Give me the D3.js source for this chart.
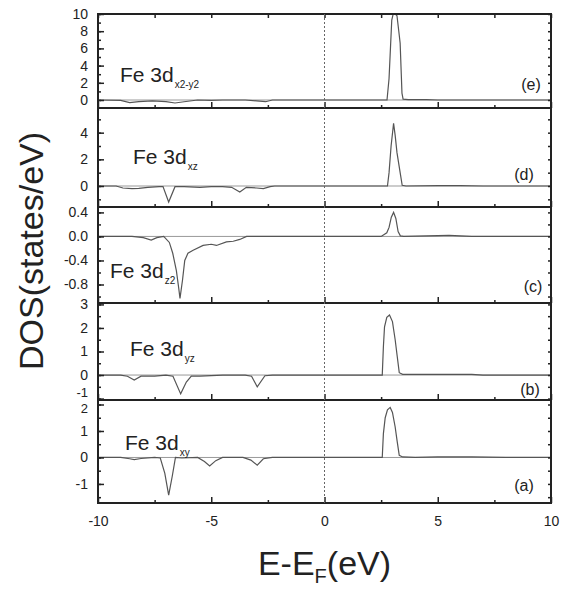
<!DOCTYPE html>
<html>
<head>
<meta charset="utf-8">
<script src="https://cdn.jsdelivr.net/npm/d3@7"></script>
<style>
  body { margin: 0; background: #fff; }
  text { font-family: "Liberation Sans", Arial, sans-serif; fill: #222; }
</style>
</head>
<body>
<div id="chart"></div>
<script>
// data: energy (eV) and DOS (states/eV) for each orbital

var energyX2Y2 = [-10, -9, -8.6, -8.2, -7.6, -7, -6.6, -6.2, -5.6, -5, -4.5, -3.5, -3, -2.6, -2.3, 2.7, 2.76, 2.85, 2.92, 2.97, 3.05, 3.2, 3.28, 3.34, 3.39, 3.42, 3.47, 3.7, 4.5, 5, 10];
var dosX2Y2 = [0, -0.05, -0.3, -0.2, -0.1, -0.2, -0.35, -0.2, 0, -0.05, 0, 0, -0.1, -0.2, 0, 0, 0, 2.5, 6.5, 9.3, 10.2, 9.8, 8, 6.6, 3, 0.8, 0.1, 0.05, 0.05, 0, 0];

var energyXZ = [-10, -9.2, -8.9, -8.5, -8.2, -7.8, -7.3, -7.13, -6.88, -6.6, -6.2, -5.5, -5, -4.5, -4.1, -3.74, -3.45, -3, -2.7, -2.4, -2.2, 2.7, 2.78, 2.85, 2.94, 3.05, 3.12, 3.2, 3.34, 3.43, 3.6, 5, 6, 7, 10];
var dosXZ = [0, 0, -0.15, -0.2, -0.18, -0.1, -0.05, -0.05, -1.2, -0.05, -0.05, -0.1, -0.05, -0.05, -0.1, -0.45, -0.1, -0.15, -0.2, -0.05, 0, 0, 0, 1, 3, 4.7, 3.8, 2.5, 1, 0.05, 0, 0.03, 0.03, 0, 0];

var energyZ2 = [-10, -8.5, -8, -7.65, -7.4, -7.1, -6.85, -6.7, -6.54, -6.44, -6.38, -6.27, -6.17, -6.03, -5.8, -5.36, -5, -4.77, -4.33, -4.03, -3.74, -3.44, 2.5, 2.75, 2.85, 2.95, 3.05, 3.15, 3.25, 3.35, 3.5, 4.5, 5, 5.5, 6, 6.5, 10];
var dosZ2 = [0, 0, -0.02, -0.06, -0.02, 0, -0.1, -0.28, -0.57, -0.85, -1.03, -0.73, -0.4, -0.28, -0.23, -0.15, -0.13, -0.15, -0.09, -0.08, -0.05, 0, 0, 0.06, 0.15, 0.32, 0.4, 0.3, 0.08, 0.01, 0, 0.01, 0.015, 0.02, 0.01, 0, 0];

var energyYZ = [-10, -9, -8.7, -8.4, -8.1, -7.5, -7, -6.69, -6.35, -6.1, -5.88, -5.5, -4.5, -3.5, -3.22, -2.97, -2.63, -2.3, 2.55, 2.6, 2.65, 2.75, 2.87, 3, 3.12, 3.21, 3.3, 3.45, 5.5, 6.5, 7, 10];
var dosYZ = [0, 0, -0.05, -0.21, -0.05, -0.05, 0, -0.05, -0.8, -0.3, -0.05, -0.05, 0, 0, -0.05, -0.5, -0.03, 0, 0, 1.2, 2.05, 2.45, 2.55, 2.27, 1.5, 0.8, 0.1, 0.03, 0.03, 0.03, 0, 0];

var energyXY = [-10, -9, -8.6, -8.4, -8.1, -7.5, -7.25, -7.05, -6.88, -6.72, -6.58, -6.3, -5.6, -5.3, -5.07, -4.8, -4.5, -3.6, -3.25, -2.97, -2.7, -2.3, 2.55, 2.6, 2.68, 2.78, 2.9, 3, 3.12, 3.21, 3.3, 3.45, 4, 5, 6.5, 8, 10];
var dosXY = [0, 0, -0.05, -0.08, -0.04, 0, -0.02, -0.6, -1.42, -0.7, 0, -0.02, 0, -0.15, -0.32, -0.12, 0, 0, -0.1, -0.29, -0.05, 0, 0, 0.9, 1.5, 1.8, 1.89, 1.7, 1.15, 0.6, 0.08, 0.02, 0, 0.02, 0.02, 0, 0];

var xTicks = [-10, -5, 0, 5, 10];
var xMinor = [-7.5, -2.5, 2.5, 7.5];

var orbitals = ["x2-y2", "xz", "z2", "yz", "xy"];
var panelLetters = ["(e)", "(d)", "(c)", "(b)", "(a)"];
var yTicksX2Y2 = [0, 2, 4, 6, 8, 10];
var yTicksXZ = [0, 2, 4];
var yTicksZ2 = [0.4, 0.0, -0.4, -0.8];
var yTicksYZ = [3, 2, 1, 0, -1];
var yTicksXY = [2, 1, 0, -1];

// layout
var W = 566, H = 590;
var left = 98, right = 551;

var panels = [
    { e: energyX2Y2, d: dosX2Y2, top: 14, bottom: 108, dom: [-0.93, 10], ticks: yTicksX2Y2, minor: 1, fmt: d => String(d),
      fe: [120, 82], let: [531, 90] },
    { e: energyXZ, d: dosXZ, top: 108, bottom: 207, dom: [-1.575, 5.85], ticks: yTicksXZ, minor: 1, fmt: d => String(d),
      fe: [133, 164], let: [524, 180] },
    { e: energyZ2, d: dosZ2, top: 207, bottom: 303, dom: [-1.108, 0.49], ticks: yTicksZ2, minor: 0.2, fmt: d => d.toFixed(1),
      fe: [110, 278], let: [533, 292] },
    { e: energyYZ, d: dosYZ, top: 303, bottom: 400, dom: [-1.06, 3.06], ticks: yTicksYZ, minor: 0.5, fmt: d => String(d),
      fe: [130, 356], let: [530, 395] },
    { e: energyXY, d: dosXY, top: 400, bottom: 503, dom: [-1.72, 2.17], ticks: yTicksXY, minor: 0.5, fmt: d => String(d),
      fe: [125, 450], let: [524, 491] }
];

var svg = d3.select('#chart')
    .append('svg')
    .attr('width', W)
    .attr('height', H);

var x = d3.scaleLinear().domain([-10, 10]).range([left, right]);

panels.forEach(function (p, i) {
    var y = d3.scaleLinear().domain(p.dom).range([p.bottom, p.top]);
    var g = svg.append('g');

    var clipId = 'clip' + i;
    svg.append('clipPath').attr('id', clipId)
        .append('rect')
        .attr('x', left).attr('y', p.top)
        .attr('width', right - left).attr('height', p.bottom - p.top);

    // zero line
    g.append('line')
        .attr('x1', left).attr('x2', right)
        .attr('y1', y(0)).attr('y2', y(0))
        .attr('stroke', '#999').attr('stroke-width', 1);

    var pts = p.e.map((v, k) => [v, p.d[k]]);
    g.append('path')
        .datum(pts)
        .attr('clip-path', 'url(#' + clipId + ')')
        .attr('fill', 'none')
        .attr('stroke', '#555')
        .attr('stroke-width', 1.2)
        .attr('d', d3.line().x(d => x(d[0])).y(d => y(d[1])));

    // minor y ticks
    var minorVals = d3.range(Math.ceil(p.dom[0] / p.minor), Math.floor(p.dom[1] / p.minor) + 1)
        .map(k => +(k * p.minor).toFixed(3));
    g.append('g')
        .attr('transform', 'translate(' + left + ',0)')
        .call(d3.axisLeft(y).tickValues(minorVals).tickSizeInner(-3).tickSizeOuter(0).tickFormat(''));
    g.append('g')
        .attr('transform', 'translate(' + right + ',0)')
        .call(d3.axisRight(y).tickValues(minorVals).tickSizeInner(-3).tickSizeOuter(0).tickFormat(''));

    // major y ticks with labels
    var ya = g.append('g')
        .attr('transform', 'translate(' + left + ',0)')
        .call(d3.axisLeft(y).tickValues(p.ticks).tickSizeInner(-6).tickSizeOuter(0).tickPadding(10).tickFormat(p.fmt));
    ya.selectAll('text').attr('font-size', 14).attr('fill', '#333')
        .style('font-family', '"Liberation Sans", Arial, sans-serif');
    // "-1" of (b) and "2" of (a) share the frame edge: push them apart a little
    if (i === 3) ya.selectAll('text').filter(d => d === -1).attr('font-size', 13).attr('dy', '-0.15em');
    if (i === 4) ya.selectAll('text').filter(d => d === 2).attr('font-size', 13).attr('dy', '0.65em');

    // bottom x ticks (inward)
    var xa = g.append('g')
        .attr('transform', 'translate(0,' + p.bottom + ')')
        .call(d3.axisBottom(x).tickValues(xTicks).tickSizeInner(-6).tickSizeOuter(0).tickPadding(13));
    g.append('g')
        .attr('transform', 'translate(0,' + p.bottom + ')')
        .call(d3.axisBottom(x).tickValues(xMinor).tickSizeInner(-3).tickSizeOuter(0).tickFormat(''));
    if (i < panels.length - 1) {
        xa.selectAll('text').remove();
    } else {
        xa.selectAll('text').attr('font-size', 14).attr('fill', '#333')
            .style('font-family', '"Liberation Sans", Arial, sans-serif')
            .text(d => String(d));
    }
    if (i === 0) {
        g.append('g')
            .attr('transform', 'translate(0,' + p.top + ')')
            .call(d3.axisTop(x).tickValues(xTicks.concat(xMinor)).tickSizeInner(-4).tickSizeOuter(0).tickFormat(''));
    }

    // frame
    g.append('rect')
        .attr('x', left).attr('y', p.top)
        .attr('width', right - left).attr('height', p.bottom - p.top)
        .attr('fill', 'none').attr('stroke', '#222').attr('stroke-width', 2);

    // orbital label with subscript
    var lab = g.append('text')
        .attr('x', p.fe[0]).attr('y', p.fe[1])
        .attr('font-size', 21);
    lab.append('tspan').text('Fe 3d');
    lab.append('tspan').attr('font-size', 10).attr('dx', 1).attr('dy', 6).text(orbitals[i]);

    g.append('text')
        .attr('x', p.let[0]).attr('y', p.let[1])
        .attr('text-anchor', 'middle')
        .attr('font-size', 16)
        .text(panelLetters[i]);
});

svg.selectAll('.domain').attr('stroke', '#222');
svg.selectAll('.tick line').attr('stroke', '#222').attr('stroke-width', 1.5);

// Fermi level
svg.append('line')
    .attr('x1', x(0)).attr('x2', x(0))
    .attr('y1', 14).attr('y2', 503)
    .attr('stroke', '#666').attr('stroke-width', 1)
    .attr('stroke-dasharray', '2,2');

// axis titles
var xt = svg.append('text')
    .attr('x', x(0)).attr('y', 575)
    .attr('text-anchor', 'middle')
    .attr('font-size', 34);
xt.append('tspan').text('E-E');
xt.append('tspan').attr('font-size', 20).attr('dy', 8).text('F');
xt.append('tspan').attr('dy', -8).text('(eV)');

svg.append('text')
    .attr('transform', 'translate(43,251) rotate(-90)')
    .attr('text-anchor', 'middle')
    .attr('font-size', 34)
    .text('DOS(states/eV)');
</script>
</body>
</html>
